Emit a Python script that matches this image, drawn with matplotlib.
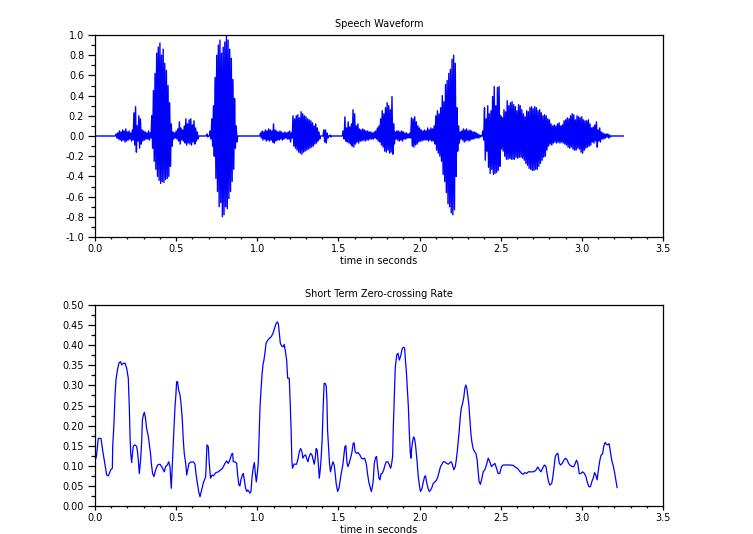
import numpy as np
import matplotlib
matplotlib.use('Agg')
import matplotlib.pyplot as plt
from matplotlib.ticker import MultipleLocator, FormatStrFormatter

# Speech waveform, read off the picture as peak values per 10 ms
# (positive peak and negative peak of each 10 ms slice)
wave_step = 0.01
wave_upper = ([0.0] * 13
              + [0.02, 0.03, 0.05, 0.04, 0.06, 0.05, 0.07, 0.04, 0.05, 0.03, 0.06]
              + [0.23, 0.29, 0.10, 0.20, 0.17]
              + [0.06, 0.05, 0.04, 0.03, 0.05, 0.03]
              + [0.20, 0.45, 0.62, 0.82, 0.88, 0.92, 0.80, 0.86, 0.72, 0.65, 0.50, 0.33, 0.12]
              + [0.04, 0.03]
              + [0.05, 0.07, 0.14, 0.08, 0.06, 0.10, 0.17, 0.12, 0.16, 0.17, 0.11, 0.15, 0.08, 0.04]
              + [0.0, 0.0, 0.0, 0.0, 0.0, 0.02, 0.0]
              + [0.05, 0.17, 0.30, 0.58, 0.80, 0.90, 0.95, 0.82, 0.88, 0.93, 1.00, 0.95, 0.86,
                 0.77, 0.56, 0.37, 0.10]
              + [0.0] * 14
              + [0.03, 0.05, 0.04, 0.06, 0.05, 0.07, 0.06, 0.05, 0.12, 0.06, 0.05, 0.04, 0.05,
                 0.04, 0.03, 0.04, 0.03, 0.04, 0.05, 0.03]
              + [0.20, 0.17, 0.20, 0.21, 0.18, 0.24, 0.22, 0.20, 0.19, 0.17, 0.16, 0.15, 0.13,
                 0.10, 0.12, 0.08, 0.04]
              + [0.0, 0.0]
              + [0.06, 0.06, 0.03, 0.0, 0.01]
              + [0.0] * 7
              + [0.05, 0.19, 0.08, 0.14, 0.09, 0.12, 0.26, 0.22, 0.10, 0.12, 0.07, 0.06, 0.07,
                 0.06, 0.05, 0.05, 0.04, 0.04, 0.03, 0.04]
              + [0.05, 0.08, 0.10, 0.17, 0.25, 0.22, 0.28, 0.33, 0.30, 0.26, 0.39, 0.12]
              + [0.04, 0.05, 0.05, 0.04, 0.05, 0.04, 0.03, 0.03, 0.02, 0.03]
              + [0.18, 0.17, 0.19, 0.14, 0.10, 0.08, 0.06, 0.05, 0.06, 0.05, 0.08, 0.06, 0.08, 0.07]
              + [0.10, 0.20, 0.25, 0.22, 0.28, 0.40, 0.34, 0.51, 0.55, 0.62, 0.66, 0.76, 0.80,
                 0.72, 0.28, 0.10]
              + [0.04, 0.05, 0.07, 0.06, 0.07, 0.05, 0.06, 0.05, 0.04, 0.04, 0.03, 0.02, 0.01]
              + [0.0]
              + [0.05, 0.28, 0.17, 0.30, 0.22, 0.25, 0.39, 0.49, 0.30, 0.48, 0.49, 0.20, 0.18,
                 0.26, 0.24, 0.35, 0.30, 0.33, 0.34, 0.31]
              + [0.29, 0.25, 0.31, 0.30, 0.26, 0.22, 0.19, 0.25, 0.24, 0.28, 0.29, 0.27, 0.29,
                 0.28, 0.25, 0.26, 0.23, 0.20, 0.21, 0.20, 0.17, 0.16, 0.12, 0.10, 0.11, 0.10,
                 0.12, 0.13, 0.10, 0.11]
              + [0.15, 0.16, 0.18, 0.17, 0.20, 0.22, 0.21, 0.16, 0.20, 0.19, 0.18, 0.19, 0.16,
                 0.15, 0.15, 0.16, 0.12]
              + [0.08, 0.09, 0.11, 0.14, 0.06, 0.08, 0.04, 0.03, 0.02, 0.02, 0.02, 0.01]
              + [0.0] * 8)

wave_lower = ([0.0] * 13
              + [-0.02, -0.03, -0.04, -0.05, -0.04, -0.06, -0.05, -0.04, -0.03, -0.05, -0.04]
              + [-0.09, -0.16, -0.05, -0.12, -0.08]
              + [-0.05, -0.04, -0.03, -0.03, -0.04, -0.02]
              + [-0.12, -0.25, -0.33, -0.40, -0.44, -0.47, -0.45, -0.46, -0.43, -0.42, -0.40,
                 -0.30, -0.10]
              + [-0.03, -0.02]
              + [-0.03, -0.05, -0.08, -0.04, -0.05, -0.07, -0.09, -0.07, -0.08, -0.09, -0.06,
                 -0.08, -0.05, -0.03]
              + [0.0, 0.0, 0.0, 0.0, 0.0, -0.01, 0.0]
              + [-0.03, -0.10, -0.20, -0.42, -0.55, -0.70, -0.66, -0.80, -0.78, -0.70, -0.72,
                 -0.62, -0.55, -0.45, -0.33, -0.12, -0.06]
              + [0.0] * 14
              + [-0.02, -0.04, -0.03, -0.05, -0.04, -0.05, -0.04, -0.06, -0.07, -0.05, -0.04,
                 -0.04, -0.03, -0.04, -0.03, -0.02, -0.03, -0.03, -0.06, -0.02]
              + [-0.10, -0.12, -0.14, -0.16, -0.17, -0.18, -0.16, -0.15, -0.14, -0.13, -0.12,
                 -0.11, -0.10, -0.08, -0.07, -0.05, -0.03]
              + [0.0, 0.0]
              + [-0.06, -0.07, -0.02, 0.0, -0.01]
              + [0.0] * 7
              + [-0.03, -0.05, -0.06, -0.07, -0.08, -0.10, -0.11, -0.08, -0.06, -0.07, -0.05,
                 -0.05, -0.04, -0.05, -0.04, -0.04, -0.03, -0.03, -0.03, -0.02]
              + [-0.03, -0.05, -0.06, -0.09, -0.11, -0.15, -0.16, -0.14, -0.17, -0.16, -0.18,
                 -0.08]
              + [-0.03, -0.04, -0.05, -0.04, -0.05, -0.03, -0.03, -0.02, -0.02, -0.02]
              + [-0.10, -0.11, -0.09, -0.08, -0.06, -0.05, -0.05, -0.04, -0.04, -0.04, -0.05,
                 -0.04, -0.05, -0.05]
              + [-0.08, -0.14, -0.17, -0.20, -0.25, -0.38, -0.45, -0.56, -0.67, -0.70, -0.76,
                 -0.78, -0.73, -0.40, -0.15, -0.07]
              + [-0.03, -0.04, -0.06, -0.05, -0.04, -0.05, -0.04, -0.03, -0.03, -0.02, -0.02,
                 -0.02, -0.01]
              + [0.0]
              + [-0.04, -0.24, -0.15, -0.31, -0.37, -0.33, -0.38, -0.37, -0.36, -0.34, -0.30,
                 -0.13, -0.15, -0.20, -0.23, -0.23, -0.22, -0.23, -0.23, -0.23]
              + [-0.21, -0.22, -0.21, -0.21, -0.22, -0.24, -0.27, -0.29, -0.32, -0.33, -0.34,
                 -0.34, -0.33, -0.33, -0.30, -0.27, -0.24, -0.21, -0.20, -0.14, -0.10, -0.08,
                 -0.09, -0.07, -0.06, -0.07, -0.06, -0.07, -0.06, -0.07]
              + [-0.08, -0.09, -0.11, -0.12, -0.11, -0.13, -0.14, -0.14, -0.12, -0.13, -0.16,
                 -0.17, -0.14, -0.12, -0.11, -0.10, -0.09]
              + [-0.06, -0.07, -0.05, -0.11, -0.05, -0.06, -0.03, -0.03, -0.02, -0.01, -0.02,
                 -0.01]
              + [0.0] * 8)

# Short term zero-crossing rate
zcr_time = [
    0.006, 0.010, 0.020, 0.037, 0.047, 0.062, 0.072, 0.082, 0.097, 0.107,
    0.109, 0.117, 0.123, 0.129, 0.138, 0.148, 0.158, 0.164, 0.175, 0.185,
    0.195, 0.205, 0.211, 0.216, 0.220, 0.226, 0.230, 0.236, 0.246, 0.257,
    0.263, 0.267, 0.273, 0.277, 0.281, 0.288, 0.292, 0.298, 0.304, 0.310,
    0.318, 0.329, 0.335, 0.343, 0.347, 0.355, 0.363, 0.374, 0.386, 0.400,
    0.411, 0.421, 0.427, 0.435, 0.446, 0.454, 0.462, 0.466, 0.470, 0.474,
    0.480, 0.487, 0.493, 0.499, 0.503, 0.509, 0.515, 0.524, 0.530, 0.538,
    0.544, 0.550, 0.559, 0.565, 0.571, 0.579, 0.590, 0.606, 0.616, 0.622,
    0.631, 0.639, 0.647, 0.657, 0.668, 0.682, 0.690, 0.698, 0.704, 0.712,
    0.721, 0.729, 0.745, 0.760, 0.774, 0.786, 0.801, 0.811, 0.821, 0.832,
    0.842, 0.848, 0.852, 0.862, 0.873, 0.879, 0.887, 0.893, 0.899, 0.908,
    0.914, 0.920, 0.928, 0.935, 0.941, 0.949, 0.955, 0.961, 0.968, 0.976,
    0.982, 0.988, 0.994, 1.000, 1.006, 1.011, 1.017, 1.023, 1.029, 1.035,
    1.041, 1.047, 1.054, 1.062, 1.074, 1.086, 1.097, 1.105, 1.115, 1.123,
    1.130, 1.136, 1.142, 1.150, 1.160, 1.166, 1.172, 1.181, 1.187, 1.197,
    1.203, 1.209, 1.213, 1.217, 1.226, 1.242, 1.252, 1.259, 1.267, 1.275,
    1.281, 1.289, 1.298, 1.304, 1.312, 1.320, 1.328, 1.337, 1.345, 1.351,
    1.357, 1.363, 1.369, 1.376, 1.382, 1.388, 1.394, 1.400, 1.406, 1.412,
    1.419, 1.425, 1.429, 1.433, 1.439, 1.445, 1.451, 1.458, 1.466, 1.474,
    1.480, 1.486, 1.495, 1.503, 1.511, 1.519, 1.527, 1.534, 1.540, 1.546,
    1.552, 1.558, 1.566, 1.574, 1.582, 1.591, 1.597, 1.603, 1.611, 1.621,
    1.632, 1.642, 1.652, 1.662, 1.673, 1.679, 1.687, 1.697, 1.703, 1.709,
    1.715, 1.721, 1.729, 1.735, 1.741, 1.750, 1.756, 1.762, 1.770, 1.779,
    1.787, 1.795, 1.805, 1.814, 1.822, 1.828, 1.834, 1.838, 1.844, 1.850,
    1.859, 1.867, 1.875, 1.883, 1.892, 1.900, 1.908, 1.912, 1.918, 1.924,
    1.931, 1.937, 1.943, 1.947, 1.951, 1.957, 1.963, 1.969, 1.976, 1.984,
    1.992, 2.000, 2.006, 2.015, 2.023, 2.031, 2.037, 2.043, 2.052, 2.060,
    2.068, 2.076, 2.084, 2.095, 2.105, 2.113, 2.121, 2.129, 2.138, 2.146,
    2.156, 2.166, 2.177, 2.187, 2.195, 2.203, 2.211, 2.220, 2.226, 2.232,
    2.238, 2.244, 2.250, 2.257, 2.265, 2.273, 2.279, 2.285, 2.291, 2.298,
    2.304, 2.310, 2.316, 2.322, 2.330, 2.339, 2.347, 2.355, 2.361, 2.367,
    2.375, 2.384, 2.392, 2.402, 2.412, 2.423, 2.433, 2.443, 2.453, 2.464,
    2.474, 2.484, 2.494, 2.505, 2.515, 2.535, 2.556, 2.577, 2.588, 2.602,
    2.614, 2.629, 2.639, 2.649, 2.660, 2.670, 2.684, 2.700, 2.715, 2.728,
    2.739, 2.748, 2.758, 2.769, 2.779, 2.787, 2.795, 2.803, 2.814, 2.820,
    2.828, 2.836, 2.844, 2.852, 2.861, 2.869, 2.879, 2.889, 2.900, 2.910,
    2.918, 2.926, 2.939, 2.951, 2.959, 2.967, 2.975, 2.984, 2.994, 3.004,
    3.016, 3.025, 3.033, 3.043, 3.053, 3.061, 3.070, 3.078, 3.086, 3.094,
    3.102, 3.111, 3.119, 3.127, 3.135, 3.143, 3.151, 3.160, 3.168, 3.176,
    3.184, 3.192, 3.201, 3.209, 3.217,
]
zcr_rate = [
    0.119, 0.127, 0.168, 0.168, 0.139, 0.102, 0.077, 0.075, 0.090, 0.094,
    0.148, 0.206, 0.272, 0.313, 0.338, 0.356, 0.359, 0.351, 0.355, 0.355,
    0.343, 0.318, 0.251, 0.172, 0.131, 0.108, 0.127, 0.149, 0.152, 0.148,
    0.131, 0.114, 0.081, 0.098, 0.114, 0.164, 0.214, 0.226, 0.233, 0.222,
    0.193, 0.172, 0.152, 0.127, 0.106, 0.081, 0.073, 0.090, 0.102, 0.104,
    0.098, 0.090, 0.085, 0.098, 0.102, 0.110, 0.098, 0.073, 0.044, 0.081,
    0.139, 0.197, 0.247, 0.280, 0.309, 0.309, 0.289, 0.276, 0.255, 0.214,
    0.164, 0.131, 0.106, 0.077, 0.090, 0.106, 0.109, 0.110, 0.104, 0.081,
    0.056, 0.036, 0.023, 0.040, 0.058, 0.073, 0.152, 0.148, 0.106, 0.069,
    0.077, 0.075, 0.083, 0.085, 0.090, 0.094, 0.106, 0.112, 0.106, 0.116,
    0.129, 0.131, 0.110, 0.110, 0.106, 0.077, 0.052, 0.050, 0.065, 0.077,
    0.081, 0.065, 0.044, 0.036, 0.040, 0.036, 0.032, 0.036, 0.073, 0.098,
    0.108, 0.081, 0.060, 0.081, 0.106, 0.172, 0.247, 0.289, 0.326, 0.351,
    0.363, 0.380, 0.405, 0.411, 0.417, 0.421, 0.430, 0.440, 0.453, 0.458,
    0.453, 0.430, 0.405, 0.398, 0.396, 0.402, 0.388, 0.363, 0.318, 0.318,
    0.255, 0.181, 0.114, 0.094, 0.104, 0.104, 0.119, 0.135, 0.143, 0.135,
    0.119, 0.125, 0.127, 0.119, 0.110, 0.123, 0.131, 0.127, 0.114, 0.104,
    0.119, 0.143, 0.139, 0.106, 0.069, 0.090, 0.123, 0.168, 0.247, 0.305,
    0.305, 0.297, 0.264, 0.189, 0.148, 0.106, 0.085, 0.098, 0.110, 0.102,
    0.081, 0.056, 0.036, 0.044, 0.065, 0.085, 0.102, 0.127, 0.148, 0.150,
    0.110, 0.098, 0.106, 0.119, 0.131, 0.156, 0.157, 0.135, 0.131, 0.133,
    0.127, 0.119, 0.117, 0.119, 0.102, 0.081, 0.060, 0.044, 0.036, 0.048,
    0.065, 0.106, 0.121, 0.123, 0.098, 0.069, 0.065, 0.080, 0.081, 0.090,
    0.102, 0.110, 0.110, 0.102, 0.094, 0.106, 0.123, 0.193, 0.272, 0.343,
    0.376, 0.380, 0.363, 0.372, 0.390, 0.395, 0.393, 0.367, 0.338, 0.297,
    0.247, 0.181, 0.131, 0.119, 0.143, 0.160, 0.172, 0.168, 0.148, 0.114,
    0.073, 0.048, 0.036, 0.044, 0.060, 0.073, 0.075, 0.060, 0.044, 0.036,
    0.040, 0.046, 0.056, 0.060, 0.065, 0.073, 0.085, 0.098, 0.104, 0.110,
    0.110, 0.106, 0.104, 0.108, 0.110, 0.102, 0.090, 0.098, 0.114, 0.135,
    0.160, 0.185, 0.218, 0.243, 0.255, 0.272, 0.293, 0.301, 0.293, 0.272,
    0.251, 0.214, 0.181, 0.160, 0.143, 0.135, 0.131, 0.114, 0.085, 0.060,
    0.054, 0.069, 0.085, 0.090, 0.102, 0.119, 0.110, 0.098, 0.102, 0.106,
    0.094, 0.081, 0.081, 0.098, 0.102, 0.102, 0.102, 0.101, 0.097, 0.094,
    0.088, 0.081, 0.079, 0.083, 0.081, 0.085, 0.085, 0.085, 0.088, 0.097,
    0.090, 0.085, 0.094, 0.102, 0.098, 0.077, 0.060, 0.052, 0.056, 0.069,
    0.094, 0.123, 0.129, 0.131, 0.106, 0.102, 0.106, 0.114, 0.119, 0.114,
    0.106, 0.102, 0.098, 0.098, 0.106, 0.114, 0.106, 0.080, 0.081, 0.085,
    0.081, 0.073, 0.060, 0.048, 0.048, 0.060, 0.069, 0.083, 0.077, 0.065,
    0.090, 0.114, 0.127, 0.129, 0.148, 0.158, 0.154, 0.152, 0.155, 0.135,
    0.114, 0.102, 0.085, 0.065, 0.046,
]

x_ticks = [0.0, 0.5, 1.0, 1.5, 2.0, 2.5, 3.0, 3.5]


def style_axes(ax, y_major, y_minor, y_fmt):
    ax.set_xlim(0, 3.5)
    ax.set_xticks(x_ticks)
    ax.xaxis.set_major_formatter(FormatStrFormatter('%.1f'))
    ax.xaxis.set_minor_locator(MultipleLocator(0.1))
    ax.yaxis.set_major_locator(MultipleLocator(y_major))
    ax.yaxis.set_minor_locator(MultipleLocator(y_minor))
    ax.yaxis.set_major_formatter(FormatStrFormatter(y_fmt))
    ax.tick_params(axis='both', which='both', direction='out', top=False, right=False,
                   labelsize=7, width=0.9)
    ax.tick_params(axis='x', which='major', length=3.2, pad=2)
    ax.tick_params(axis='x', which='minor', length=1.6)
    ax.tick_params(axis='y', which='major', length=4.8, pad=3)
    ax.tick_params(axis='y', which='minor', length=2.9)
    for sp in ax.spines.values():
        sp.set_linewidth(0.9)
    ax.set_xlabel('time in seconds', fontsize=7, labelpad=1)


def main():
    fig = plt.figure(figsize=(7.53, 5.34), dpi=100)
    W, H = 753, 534

    # top panel: waveform
    ax1 = fig.add_axes([95 / W, 1 - 237 / H, 568 / W, 202 / H])
    upper = np.array(wave_upper)
    lower = np.array(wave_lower)
    assert len(upper) == len(lower)
    t = np.arange(len(upper)) * wave_step
    xs = np.column_stack([t, t + wave_step / 2]).ravel()
    ys = np.column_stack([upper, lower]).ravel()
    ax1.plot(xs, ys, color='#0000ff', linewidth=1.0)
    ax1.set_ylim(-1.0, 1.0)
    style_axes(ax1, 0.2, 0.1, '%.1f')
    ax1.set_title('Speech Waveform', fontsize=7, pad=6)

    # bottom panel: zero-crossing rate
    ax2 = fig.add_axes([95 / W, 1 - 506 / H, 568 / W, 201 / H])
    ax2.plot(zcr_time, zcr_rate, color='#0000ff', linewidth=0.9)
    ax2.set_ylim(0.0, 0.5)
    style_axes(ax2, 0.05, 0.025, '%.2f')
    ax2.set_title('Short Term Zero-crossing Rate', fontsize=7, pad=6)

    fig.savefig('out.png', dpi=100)
    plt.close(fig)


if __name__ == '__main__':
    main()
